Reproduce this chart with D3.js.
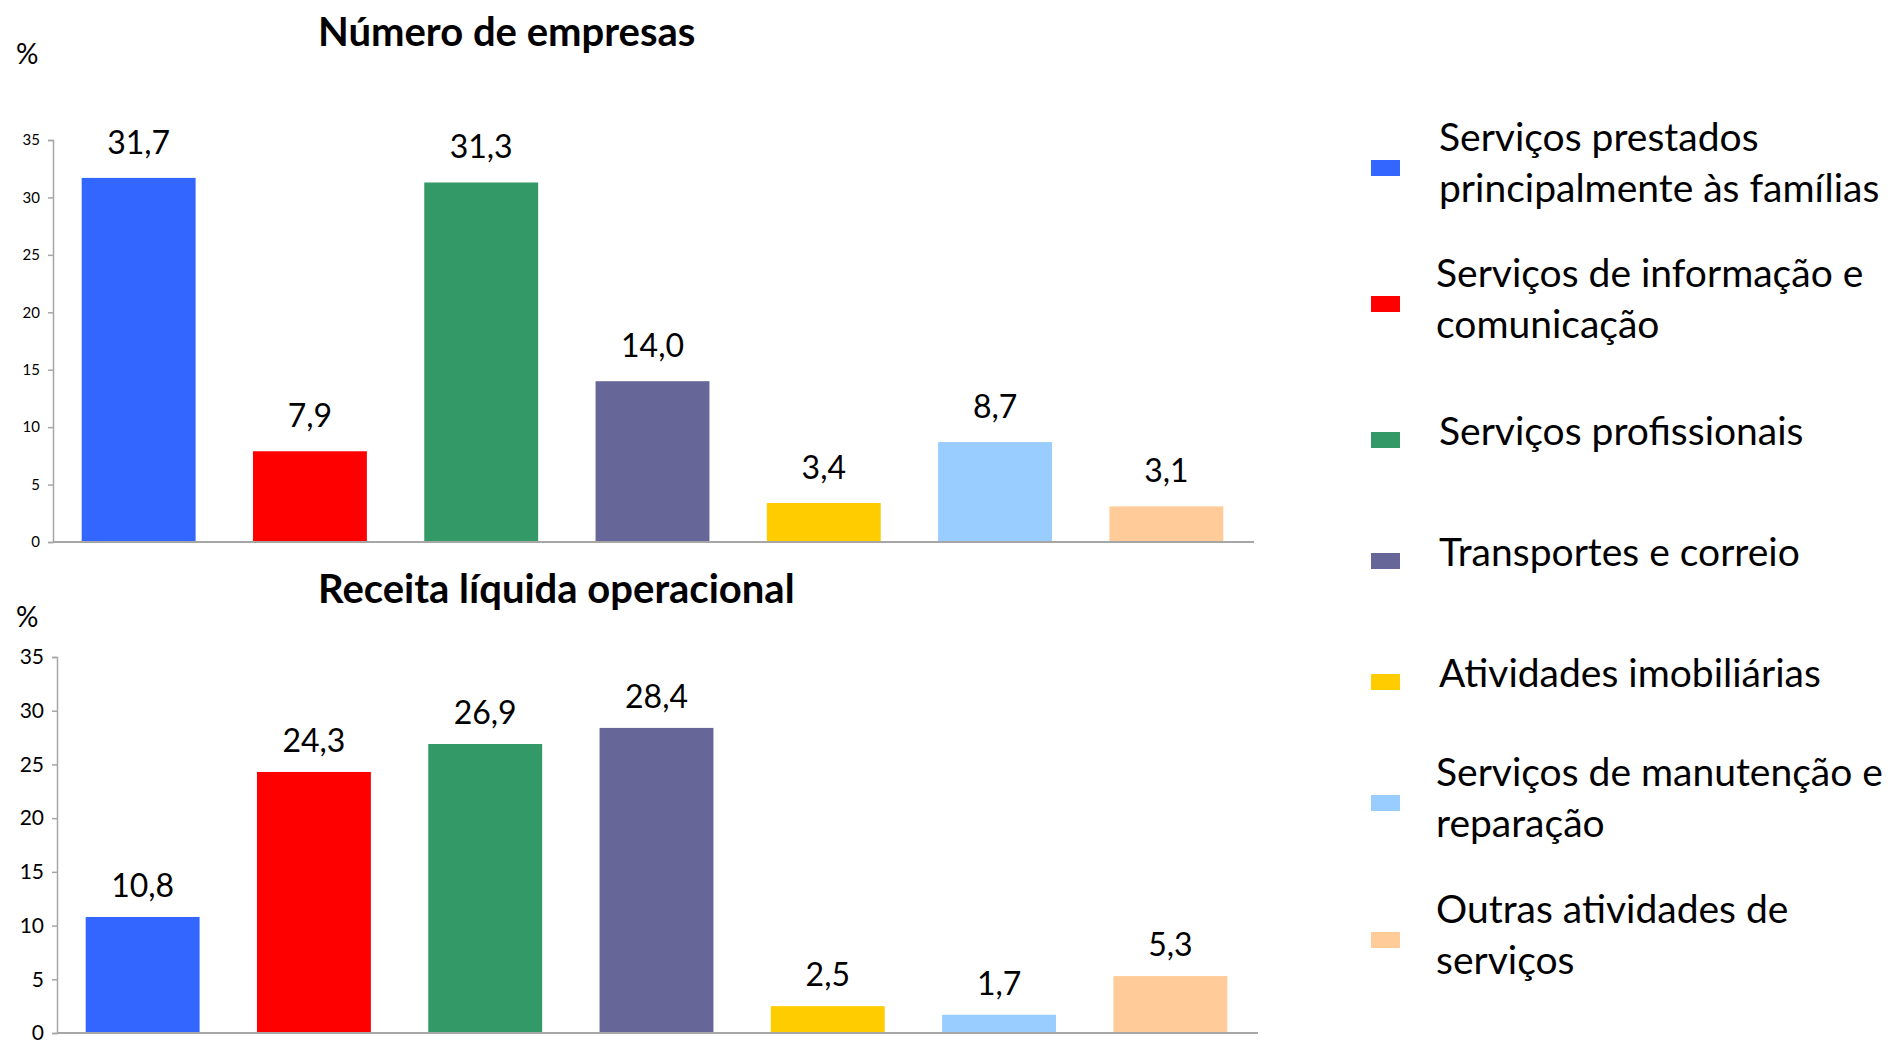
<!DOCTYPE html>
<html>
<head>
<meta charset="utf-8">
<script src="https://cdn.jsdelivr.net/npm/d3@7"></script>
<style>
  html, body { margin: 0; padding: 0; background: #fff; }
  svg { display: block; font-family: Lato, "Noto Sans", sans-serif; }
</style>
</head>
<body>
<svg id="chart" width="1899" height="1043"></svg>
<script>
const categories = [
  "Serviços prestados principalmente às famílias",
  "Serviços de informação e comunicação",
  "Serviços profissionais",
  "Transportes e correio",
  "Atividades imobiliárias",
  "Serviços de manutenção e reparação",
  "Outras atividades de serviços"
];
const legendLines = [
  ["Serviços prestados", "principalmente às famílias"],
  ["Serviços de informação e", "comunicação"],
  ["Serviços profissionais"],
  ["Transportes e correio"],
  ["Atividades imobiliárias"],
  ["Serviços de manutenção e", "reparação"],
  ["Outras atividades de", "serviços"]
];
const numeroEmpresas = [31.7, 7.9, 31.3, 14.0, 3.4, 8.7, 3.1];
const receitaLiquida = [10.8, 24.3, 26.9, 28.4, 2.5, 1.7, 5.3];
const yTicks = [0, 5, 10, 15, 20, 25, 30, 35];
const colors = ["#3366FF", "#FF0000", "#339966", "#666699", "#FFCC00", "#99CCFF", "#FFCC99"];
const titles = ["Número de empresas", "Receita líquida operacional"];

const svg = d3.select("#chart");
const fmt = v => v.toFixed(1).replace(".", ",");

function panel(cfg) {
  const x = d3.scaleBand().domain(d3.range(categories.length))
    .range([cfg.x0, cfg.x1]).paddingInner(0.335).paddingOuter(0.1675);
  const y = d3.scaleLinear().domain([0, 35]).range([cfg.y0, cfg.y35]);
  const g = svg.append("g");

  const ax = g.append("g").attr("transform", `translate(${cfg.x0},0)`)
    .call(d3.axisLeft(y).tickValues(yTicks).tickSize(5).tickPadding(8).tickFormat(d3.format("d")));
  ax.select(".domain").attr("stroke", "#a6a6a6").attr("stroke-width", 1.5);
  ax.selectAll(".tick line").attr("stroke", "#a6a6a6").attr("stroke-width", 1.5);
  ax.selectAll(".tick text").attr("fill", "#000").style("font-size", cfg.tickFont + "px")
    .style("font-family", "Lato, sans-serif");

  g.append("line").attr("x1", cfg.x0).attr("x2", cfg.x1 + 2)
    .attr("y1", y(0)).attr("y2", y(0)).attr("stroke", "#a6a6a6").attr("stroke-width", 2);

  g.selectAll("rect.bar").data(cfg.values).enter().append("rect")
    .attr("class", "bar")
    .attr("x", (d, i) => x(i)).attr("width", x.bandwidth())
    .attr("y", d => y(d)).attr("height", d => y(0) - y(d) - 1)
    .attr("fill", (d, i) => colors[i]);

  g.selectAll("text.lbl").data(cfg.values).enter().append("text")
    .attr("class", "lbl")
    .attr("x", (d, i) => x(i) + x.bandwidth() / 2)
    .attr("y", d => y(d) - cfg.lblGap)
    .attr("text-anchor", "middle")
    .style("font-size", "32px").attr("fill", "#000")
    .text(fmt);

  g.append("text").attr("x", 318).attr("y", cfg.titleY)
    .attr("text-anchor", "start").style("font-size", "40px").style("font-weight", "bold")
    .text(cfg.title);

  g.append("text").attr("x", 16).attr("y", cfg.pctY)
    .style("font-size", "28px").text("%");
}

panel({x0: 53, x1: 1252, y0: 542, y35: 140, values: numeroEmpresas, title: titles[0],
       titleY: 46, pctY: 64, tickFont: 15, lblGap: 24});
panel({x0: 57, x1: 1256, y0: 1033, y35: 657, values: receitaLiquida, title: titles[1],
       titleY: 603, pctY: 627, tickFont: 21, lblGap: 20});

// Legend
const legendY = [168, 304, 440, 561, 682, 803, 940];
const legendTextX = [1439, 1436, 1439, 1439, 1439, 1436, 1436];
const lg = svg.append("g");
legendLines.forEach((lines, i) => {
  lg.append("rect").attr("x", 1371).attr("y", legendY[i] - 8)
    .attr("width", 29).attr("height", 16).attr("fill", colors[i]);
  const lh = 51;
  const n = lines.length;
  const startY = n === 1 ? legendY[i] - 8 : legendY[i] - lh / 2 - 5;
  lines.forEach((t, j) => {
    lg.append("text").attr("x", legendTextX[i]).attr("y", startY + j * lh + 13)
      .style("font-size", "39px").attr("fill", "#000").text(t);
  });
});
</script>
</body>
</html>
